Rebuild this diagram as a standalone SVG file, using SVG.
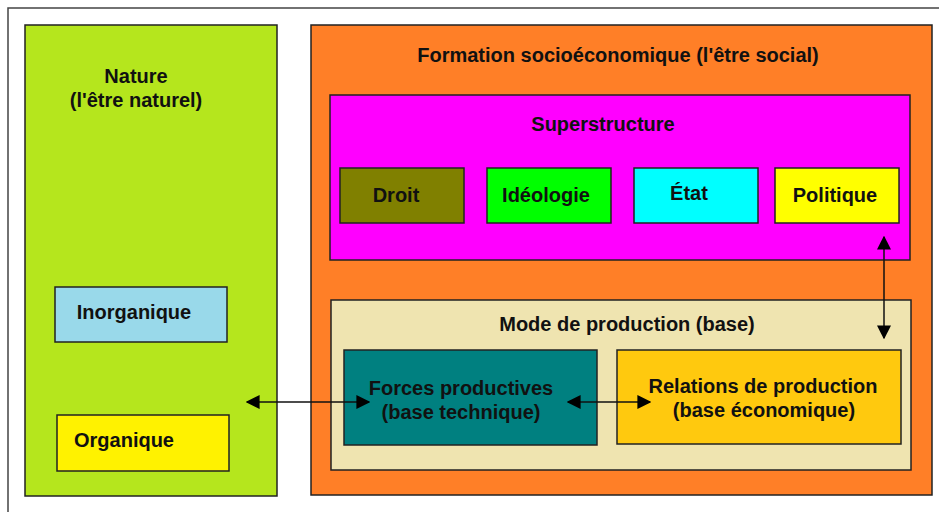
<svg xmlns="http://www.w3.org/2000/svg" width="939" height="512" viewBox="0 0 939 512">
<style>
.box{stroke:#222;stroke-width:1.5}
.t{font-family:"Liberation Sans",Arial,sans-serif;font-weight:bold;font-size:20px;fill:#111;text-anchor:middle}
.c{stroke:#111;stroke-width:1.5;fill:none;marker-start:url(#ah);marker-end:url(#ah)}
</style>
<defs>
<marker id="ah" viewBox="0 0 10 10" refX="9" refY="5" markerWidth="14" markerHeight="14" markerUnits="userSpaceOnUse" orient="auto-start-reverse">
<path d="M0,0 L10,5 L0,10 Z" fill="#000"/>
</marker>
</defs>
<rect x="0" y="0" width="939" height="512" fill="#fff"/>
<path d="M8,512 V8 H939" fill="none" stroke="#444" stroke-width="1.5"/>
<g id="nature">
<rect class="box" x="25" y="25" width="252" height="471" fill="#b5e61d"/>
<text class="t" x="136" y="83">Nature</text>
<text class="t" x="136" y="107">(l'être naturel)</text>
</g>
<g id="inorganique">
<rect class="box" x="55" y="287" width="172" height="55" fill="#99d9ea"/>
<text class="t" x="134" y="319">Inorganique</text>
</g>
<g id="organique">
<rect class="box" x="57" y="415" width="172" height="56" fill="#fff200"/>
<text class="t" x="124" y="447">Organique</text>
</g>
<g id="formation">
<rect class="box" x="311" y="25" width="621" height="470" fill="#ff7f27"/>
<text class="t" x="618" y="62">Formation socioéconomique (l'être social)</text>
</g>
<g id="superstructure">
<rect class="box" x="330" y="95" width="580" height="165" fill="#ff00ff"/>
<text class="t" x="603" y="131">Superstructure</text>
</g>
<g id="droit">
<rect class="box" x="340" y="168" width="124" height="55" fill="#808000"/>
<text class="t" x="396" y="202">Droit</text>
</g>
<g id="ideologie">
<rect class="box" x="487" y="168" width="124" height="55" fill="#00ff00"/>
<text class="t" x="546" y="202">Idéologie</text>
</g>
<g id="etat">
<rect class="box" x="634" y="168" width="124" height="55" fill="#00ffff"/>
<text class="t" x="689" y="200">État</text>
</g>
<g id="politique">
<rect class="box" x="775" y="168" width="124" height="55" fill="#ffff00"/>
<text class="t" x="835" y="202">Politique</text>
</g>
<g id="mode">
<rect class="box" x="331" y="300" width="580" height="170" fill="#efe4b0"/>
<text class="t" x="627" y="331">Mode de production (base)</text>
</g>
<g id="forces">
<rect class="box" x="344" y="350" width="253" height="95" fill="#008080"/>
<text class="t" x="461" y="395">Forces productives</text>
<text class="t" x="461" y="419">(base technique)</text>
</g>
<g id="relations">
<rect class="box" x="617" y="350" width="284" height="94" fill="#ffc90e"/>
<text class="t" x="763" y="393">Relations de production</text>
<text class="t" x="764" y="417">(base économique)</text>
</g>
<g id="connectors">
<line class="c" x1="247" y1="402" x2="369" y2="402"/>
<line class="c" x1="568" y1="402" x2="650" y2="402"/>
<line class="c" x1="884" y1="237" x2="884" y2="338"/>
</g>
</svg>
